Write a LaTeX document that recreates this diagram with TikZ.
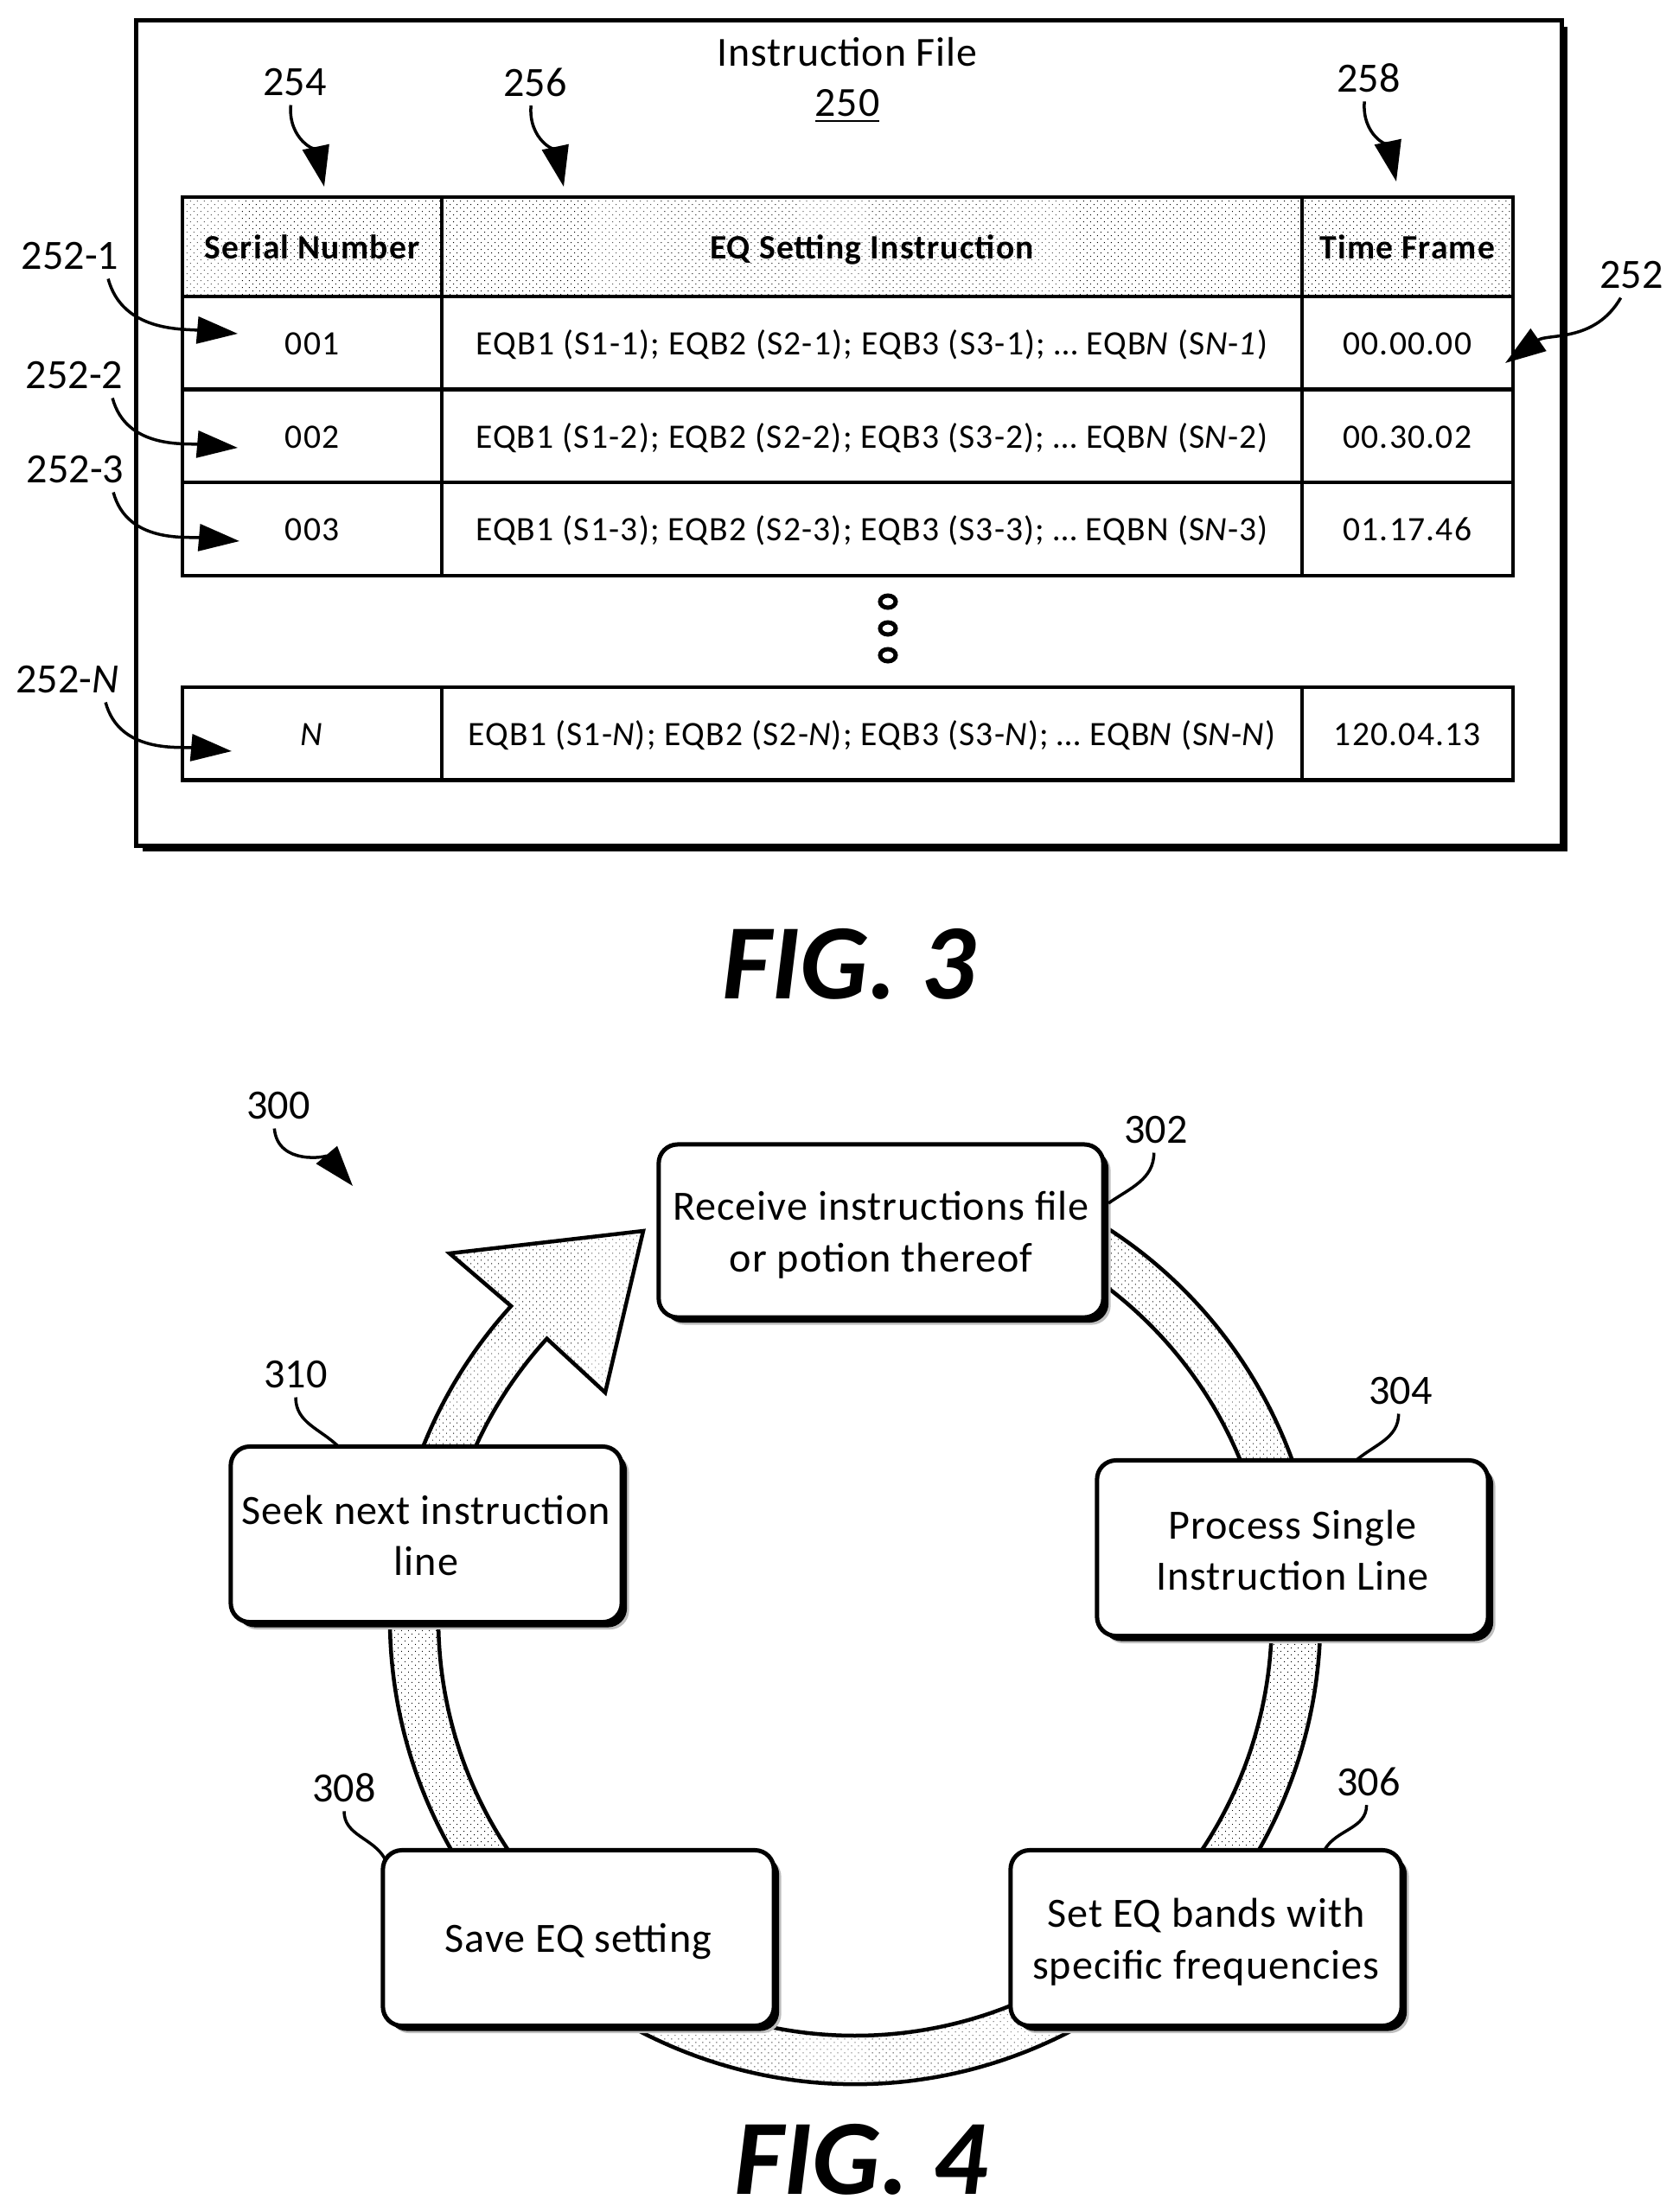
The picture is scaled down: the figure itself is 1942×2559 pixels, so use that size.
\documentclass[tikz,border=0pt]{standalone}
\usepackage{fontspec}
\setmainfont{Carlito}
\newfontfamily\tablefont{Carlito}[LetterSpace=3]
\newfontfamily\boxfont{Carlito}[LetterSpace=2]
\usetikzlibrary{positioning,arrows.meta,shadows,patterns.meta}
\tikzset{
  stipple/.style={pattern={Dots[distance=0.0566cm,radius=0.0065cm,angle=45]},pattern color=black},
  refnum/.style={inner sep=0.1cm,font=\fontsize{13.7}{16}\selectfont},
  pointer/.style={line width=0.035cm,-{Triangle[length=0.47cm,width=0.31cm]}},
  lead/.style={line width=0.035cm},
  cell/.style={draw,line width=0.045cm,inner sep=0,outer sep=0,minimum height=1.075cm,
    text height=0.34cm,text depth=0.06cm,font=\fontsize{11.25}{14}\tablefont},
  serialcol/.style={cell,minimum width=3cm},
  eqcol/.style={cell,minimum width=9.94cm},
  timecol/.style={cell,minimum width=2.44cm},
  headcell/.style={stipple,minimum height=1.15cm,font=\fontsize{11.25}{14}\tablefont\bfseries},
  stepbox/.style={draw,fill=white,rounded corners=0.22cm,line width=0.05cm,inner sep=0,align=center,
    minimum width=4.52cm,minimum height=2.03cm,font=\fontsize{13.7}{17}\boxfont,
    drop shadow={shadow xshift=0.085cm,shadow yshift=-0.085cm,fill=black!25,opacity=1},
    drop shadow={shadow xshift=0.06cm,shadow yshift=-0.06cm,fill=black,opacity=1}},
  textdown/.style={execute at begin node={\rule{0pt}{#1}}},
  figlabel/.style={inner sep=0,font=\fontsize{35.2}{40}\selectfont\bfseries\itshape}
}
\begin{document}
\begin{tikzpicture}[x=0.01cm,y=0.01cm]
  \useasboundingbox (0,0) rectangle (1942,-2559);

  % Instruction file frame
  \node (filebox) [draw,line width=0.05cm,inner sep=0,minimum width=16.48cm,minimum height=9.54cm,
    anchor=north west,drop shadow={shadow xshift=0.07cm,shadow yshift=-0.07cm,fill=black,opacity=1},fill=white] at (155,-21) {};
  \node (filetitle) [font=\fontsize{13.6}{16}\boxfont] at (980,-60) {Instruction File};
  \node (filenum) [font=\fontsize{13.6}{16}\boxfont] at (980,-123) {\underline{250}};

  % Table header and first rows
  \node (head1) [serialcol,headcell,anchor=north west] at (211,-228) {Serial Number};
  \node (head2) [eqcol,headcell,right=0cm of head1] {EQ Setting Instruction};
  \node (head3) [timecol,headcell,right=0cm of head2] {Time Frame};

  \node (ser1) [serialcol,below=0cm of head1] {001};
  \node (eq1) [eqcol,right=0cm of ser1] {EQB1 (S1-1); EQB2 (S2-1); EQB3 (S3-1); … EQB\textit{N} (S\textit{N}-\textit{1})};
  \node (time1) [timecol,right=0cm of eq1] {00.00.00};

  \node (ser2) [serialcol,below=0cm of ser1] {002};
  \node (eq2) [eqcol,right=0cm of ser2] {EQB1 (S1-2); EQB2 (S2-2); EQB3 (S3-2); … EQB\textit{N} (S\textit{N}-2)};
  \node (time2) [timecol,right=0cm of eq2] {00.30.02};

  \node (ser3) [serialcol,below=0cm of ser2] {003};
  \node (eq3) [eqcol,right=0cm of ser3] {EQB1 (S1-3); EQB2 (S2-3); EQB3 (S3-3); … EQBN (S\textit{N}-3)};
  \node (time3) [timecol,right=0cm of eq3] {01.17.46};

  % Three dots between the rows
  \draw[line width=0.05cm] (1027,-696) ellipse (9 and 7);
  \draw[line width=0.05cm] (1027,-727) ellipse (9 and 7);
  \draw[line width=0.05cm] (1027,-758) ellipse (9 and 7);

  % Last row
  \node (serN) [serialcol,anchor=north west] at (211,-795) {\textit{N}};
  \node (eqN) [eqcol,right=0cm of serN] {EQB1 (S1-\textit{N}); EQB2 (S2-\textit{N}); EQB3 (S3-\textit{N}); … EQB\textit{N} (S\textit{N}-\textit{N})};
  \node (timeN) [timecol,right=0cm of eqN] {120.04.13};

  % Reference numbers with pointers
  \node (lab254) [refnum] at (341,-95) {254};
  \node (lab256) [refnum] at (619,-95) {256};
  \node (lab258) [refnum] at (1583,-90) {258};
  \node (lab252) [refnum] at (1887,-318) {252};
  \node (lab2521) [refnum] at (81,-296) {252-1};
  \node (lab2522) [refnum] at (86,-434) {252-2};
  \node (lab2523) [refnum] at (87,-543) {252-3};
  \node (lab252N) [refnum] at (78,-786) {252-\textit{N}};

  \coordinate (tip254) at (375,-216);
  \coordinate (tip256) at (652,-216);
  \coordinate (tip258) at (1615,-210);
  \coordinate (tip252) at (1741,-420);
  \coordinate (tip2521) at (275,-386);
  \coordinate (tip2522) at (275,-518);
  \coordinate (tip2523) at (277,-626);
  \coordinate (tip252N) at (268,-869);

  \draw[pointer] (lab254.-100) to[out=-95,in=102] (tip254);
  \draw[pointer] (lab256.-100) to[out=-95,in=102] (tip256);
  \draw[pointer] (lab258.-100) to[out=-95,in=102] (tip258);
  \draw[pointer] (lab252.-115) to[out=-120,in=35] (tip252);
  \draw[pointer] (lab2521.-31) to[out=-75,in=175] (tip2521);
  \draw[pointer] (lab2522.-31) to[out=-75,in=175] (tip2522);
  \draw[pointer] (lab2523.-31) to[out=-75,in=175] (tip2523);
  \draw[pointer] (lab252N.-31) to[out=-75,in=175] (tip252N);

  \node (fig3) [figlabel] at (982,-1115) {FIG. 3};

  % Ring arrow behind the step boxes
  \begin{scope}[shift={(989,-1873)}]
    \draw[line width=0.045cm,stipple,line join=miter] (70:538) arc[start angle=70,end angle=-222.3,radius=538]
      -- (-469,423) -- (-245,449) -- (-289,262) -- (137.7:482)
      arc[start angle=-222.3,end angle=70,radius=482] -- cycle;
  \end{scope}

  % Step boxes
  \node (box302) [stepbox,textdown=1.03cm,minimum width=5.14cm,minimum height=2cm] at (1019,-1424) {Receive instructions file\\or potion thereof};
  \node (box304) [stepbox,textdown=0.98cm] at (1495,-1791) {Process Single\\Instruction Line};
  \node (box306) [stepbox,textdown=1.03cm] at (1395,-2242) {Set EQ bands with\\specific frequencies};
  \node (box308) [stepbox,textdown=0.42cm] at (669,-2242) {Save EQ setting};
  \node (box310) [stepbox,textdown=0.96cm] at (493,-1775) {Seek next instruction\\line};

  \node (lab300) [refnum] at (322,-1279) {300};
  \node (lab302) [refnum] at (1337,-1307) {302};
  \node (lab304) [refnum] at (1620,-1609) {304};
  \node (lab306) [refnum] at (1583,-2061) {306};
  \node (lab308) [refnum] at (398,-2068) {308};
  \node (lab310) [refnum] at (342,-1590) {310};

  \coordinate (tip300) at (408,-1372);
  \coordinate (end302) at (1282,-1392);
  \coordinate (end304) at (1569,-1689);
  \coordinate (end306) at (1532,-2140);
  \coordinate (end308) at (445,-2150);
  \coordinate (end310) at (392,-1674);

  \draw[pointer] (lab300.-100) to[out=-85,in=130] (tip300);
  \draw[lead] (lab302.-95) to[out=-90,in=35] (end302);
  \draw[lead] (lab304.-95) to[out=-90,in=40] (end304);
  \draw[lead] (lab306.-95) to[out=-90,in=60] (end306);
  \draw[lead] (lab308.-90) to[out=-90,in=120] (end308);
  \draw[lead] (lab310.-90) to[out=-90,in=135] (end310);

  \node (fig4) [figlabel] at (996,-2498) {FIG. 4};
\end{tikzpicture}
\end{document}
